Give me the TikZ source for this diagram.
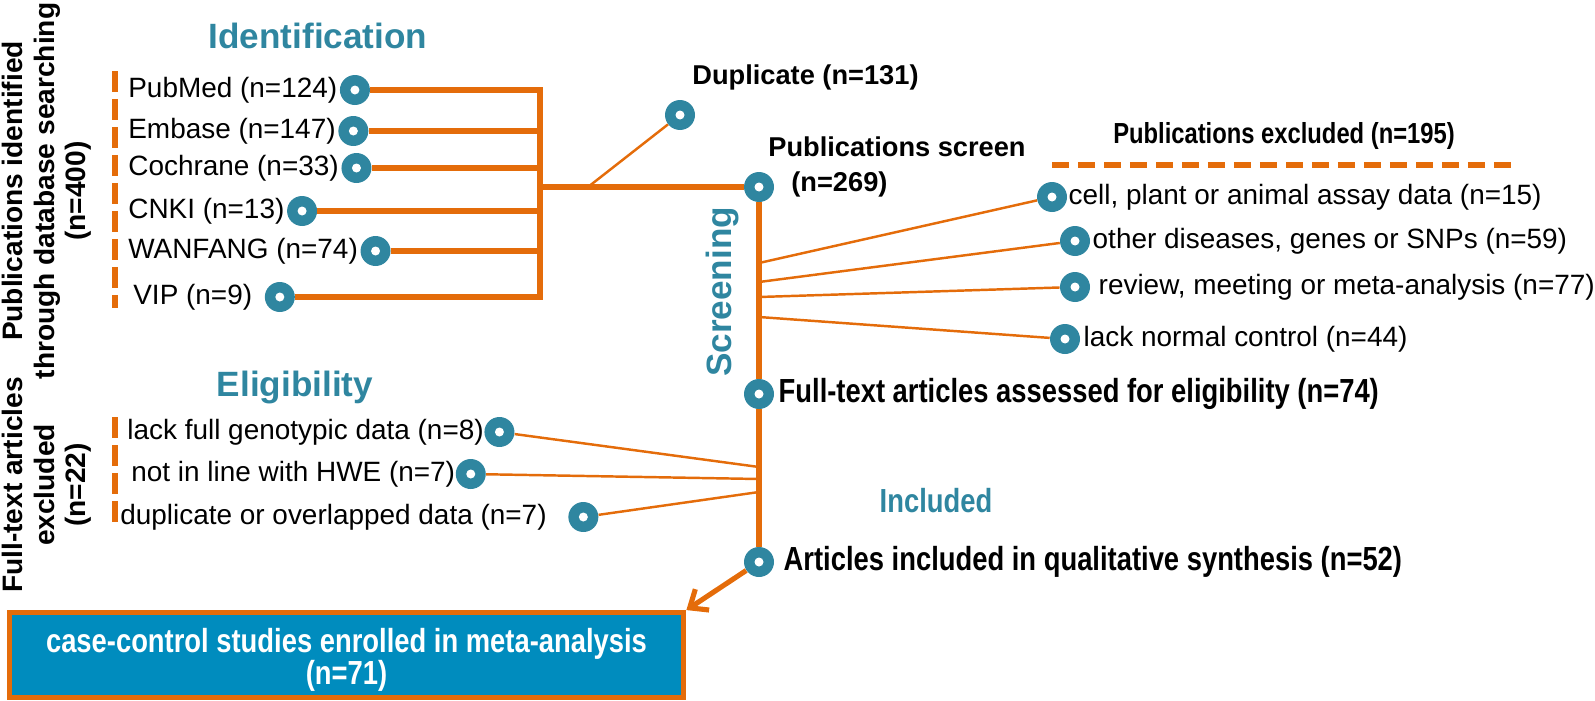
\documentclass[tikz,border=0pt]{standalone}
\usepackage{fontspec}
\setmainfont{Liberation Sans}
\newfontfamily\narrowfont{Liberation Sans}[FakeStretch=0.82]
\usetikzlibrary{shapes,arrows,arrows.meta,positioning}
\definecolor{flowteal}{RGB}{47,134,160}
\definecolor{floworange}{RGB}{228,108,10}
\definecolor{flowblue}{RGB}{0,140,190}

\begin{document}
\begin{tikzpicture}[x=0.02cm,y=-0.02cm]
	\tikzstyle{every node}=[font=\fontsize{15.9}{18}\selectfont, inner sep=0pt]
	\tikzstyle{hub}=[circle, fill=flowteal, minimum size=0.6cm, inner sep=0pt,
		path picture={\fill[white] (path picture bounding box.center) circle (0.09cm);}]
	\tikzstyle{stage}=[text=flowteal, font=\bfseries\fontsize{20}{24}\selectfont]
	\tikzstyle{sidetitle}=[rotate=90, align=center, font=\bfseries\fontsize{16}{18}\selectfont]
	\tikzstyle{entry}=[anchor=west]
	\tikzstyle{head}=[font=\bfseries\fontsize{15.5}{18}\selectfont]
	\tikzstyle{narrow}=[font=\narrowfont\bfseries\fontsize{19}{22}\selectfont]
	\tikzstyle{trunk}=[draw=floworange, line width=2.9pt]
	\tikzstyle{twig}=[draw=floworange, line width=1.4pt]
	\tikzstyle{dashbar}=[draw=floworange, line width=3.8pt]

	\useasboundingbox (0,0) rectangle (1595,700);
	\clip (0,0) rectangle (1595,700);

	% identification
	\node[stage] (ident) at (318,36) {Identification};
	\node[sidetitle] (found) at (47,191) {Publications identified\\through database searching\\(n=400)};
	\draw[dashbar, dash pattern=on 0.42cm off 0.14cm] (115,71) -- (115,308);

	\node[entry] (pubmed) at (128,90) {PubMed (n=124)};
	\node[entry] (embase) at (128,131) {Embase (n=147)};
	\node[entry] (cochrane) at (128,168) {Cochrane (n=33)};
	\node[entry] (cnki) at (128,211) {CNKI (n=13)};
	\node[entry] (wanfang) at (128,251) {WANFANG (n=74)};
	\node[entry] (vip) at (133,297) {VIP (n=9)};
	\node[hub, right=0.04cm of pubmed] (pubmed hub) {};
	\node[hub, right=0.04cm of embase] (embase hub) {};
	\node[hub, right=0.04cm of cochrane] (cochrane hub) {};
	\node[hub, right=0.04cm of cnki] (cnki hub) {};
	\node[hub, right=0.04cm of wanfang] (wanfang hub) {};
	\node[hub, right=0.24cm of vip] (vip hub) {};

	\coordinate (bus) at (540,187);
	\draw[trunk] (pubmed hub) -- (pubmed hub -| bus) -- (vip hub -| bus) -- (vip hub);
	\draw[trunk] (embase hub) -- (embase hub -| bus);
	\draw[trunk] (cochrane hub) -- (cochrane hub -| bus);
	\draw[trunk] (cnki hub) -- (cnki hub -| bus);
	\draw[trunk] (wanfang hub) -- (wanfang hub -| bus);

	\node[hub] (screen) at (759,187) {};
	\draw[trunk] (bus) -- (screen);
	\coordinate (fork) at (588,187);
	\node[hub] (dup) at (680,115) {};
	\draw[twig] (fork) -- (dup);
	\node[entry, head] (dup label) at (692,77) {Duplicate (n=131)};
	\node[entry, head] (screen label) at (768,147) {Publications screen};
	\node[entry, head] (screen n) at (791,184) {(n=269)};

	% screening
	\node[stage, rotate=90] (screening) at (722,292) {Screening};
	\node[font=\narrowfont\bfseries\fontsize{16.5}{20}\selectfont] (excl label) at (1284,136) {Publications excluded (n=195)};
	\draw[dashbar, dash pattern=on 0.34cm off 0.18cm] (1052,165) -- (1519,165);

	\node[hub] (cell hub) at (1052,197) {};
	\node[entry, right=0.02cm of cell hub] (cell) {cell, plant or animal assay data (n=15)};
	\node[hub] (other hub) at (1075,241) {};
	\node[entry, right=0.04cm of other hub] (other) {other diseases, genes or SNPs (n=59)};
	\node[hub] (review hub) at (1075,287) {};
	\node[entry, right=0.16cm of review hub] (review) {review, meeting or meta-analysis (n=77)};
	\node[hub] (normal hub) at (1065,339) {};
	\node[entry, right=0.06cm of normal hub] (normal) {lack normal control (n=44)};

	\node[hub] (full) at (759,394) {};
	\node[hub] (incl) at (759,562) {};
	\draw[trunk] (screen) -- (full) -- (incl);

	\coordinate (s1) at (759,263);
	\coordinate (s2) at (759,282);
	\coordinate (s3) at (759,297);
	\coordinate (s4) at (759,317);
	\draw[twig] (s1) -- (cell hub);
	\draw[twig] (s2) -- (other hub);
	\draw[twig] (s3) -- (review hub);
	\draw[twig] (s4) -- (normal hub);

	\node[entry, narrow, right=0.08cm of full] (full label) {Full-text articles assessed for eligibility (n=74)};

	% eligibility
	\node[stage] (elig) at (295,387) {Eligibility};
	\node[sidetitle] (fullex) at (47,485) {Full-text articles\\excluded\\(n=22)};
	\draw[dashbar, dash pattern=on 0.42cm off 0.14cm] (115,417) -- (115,524);

	\node[entry] (geno) at (127,432) {lack full genotypic data (n=8)};
	\node[hub, right=0cm of geno] (geno hub) {};
	\node[entry] (hwe) at (131,474) {not in line with HWE (n=7)};
	\node[hub, right=0cm of hwe] (hwe hub) {};
	\node[entry] (overlap) at (120,517) {duplicate or overlapped data (n=7)};
	\node[hub, right=0.42cm of overlap] (overlap hub) {};

	\coordinate (e1) at (759,467);
	\coordinate (e2) at (759,479);
	\coordinate (e3) at (759,492);
	\draw[twig] (e1) -- (geno hub);
	\draw[twig] (e2) -- (hwe hub);
	\draw[twig] (e3) -- (overlap hub);

	% included
	\node[narrow, text=flowteal] (included) at (936,501) {Included};
	\node[entry, narrow, right=0.18cm of incl] (incl label) {Articles included in qualitative synthesis (n=52)};

	\node[draw=floworange, line width=2.8pt, fill=flowblue, text=white, narrow, align=center,
		minimum width=13.5cm, minimum height=1.7cm] (meta) at (346.5,655) {\rule{0pt}{19pt}case-control studies enrolled in meta-analysis\\[-4pt](n=71)};
	\draw[trunk, -{Straight Barb[length=0.3cm, width=0.5cm]}] (incl) -- (meta.north east);
\end{tikzpicture}
\end{document}
